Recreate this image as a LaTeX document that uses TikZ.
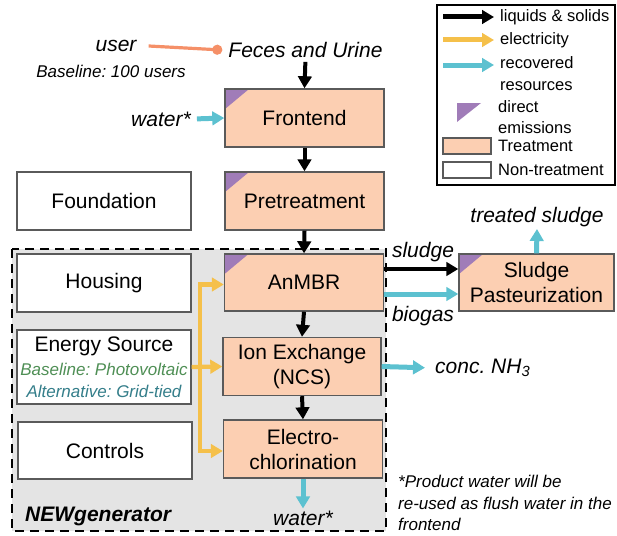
\documentclass[tikz,border=0pt]{standalone}
\usepackage{fontspec}
\setmainfont{Liberation Sans}
\usetikzlibrary{arrows.meta,positioning}
\frenchspacing

\definecolor{treat}{HTML}{FCCFB2}
\definecolor{emis}{HTML}{A07CB8}
\definecolor{recov}{HTML}{5CC1D0}
\definecolor{elec}{HTML}{F5C04A}
\definecolor{usr}{HTML}{F59068}
\definecolor{genbg}{HTML}{E4E4E4}
\definecolor{basegreen}{HTML}{4F8F55}
\definecolor{altteal}{HTML}{347E8A}
\definecolor{edge}{HTML}{5A5A5A}

\newcommand{\bigfont}{\fontsize{21}{25}\selectfont}
\newcommand{\notefont}{\fontsize{17}{21.5}\selectfont}

\tikzset{
  unit/.style={draw=edge, line width=1.4pt, minimum width=159pt, minimum height=58pt,
    inner sep=0pt, align=center, font=\bigfont},
  treatbox/.style={unit, fill=treat},
  plainbox/.style={unit, fill=white, minimum width=174pt},
  emitting/.style={path picture={\fill[emis] (path picture bounding box.north west)
    -- ++(24pt,0pt) -- ++(-24pt,-20pt) -- cycle;}},
  lab/.style={font=\bigfont\itshape, inner sep=2pt},
  note/.style={font=\notefont\itshape, inner sep=0pt},
  flow/.style={-{Triangle[width=13.5pt,length=12pt]}, line width=4pt},
  recovered/.style={flow, recov, line width=5pt},
  power/.style={-{Triangle[width=13.5pt,length=12pt]}, elec, line width=4.3pt},
  keytext/.style={font=\fontsize{16.5}{21.5}\selectfont, anchor=west, inner sep=0pt, align=left},
}

\begin{document}
\begin{tikzpicture}[x=1pt,y=-1pt]
  \useasboundingbox (0,0) rectangle (617,535);

  % NEWgenerator の範囲
  \fill[genbg] (12,249) rectangle (386,531);
  \draw[line width=2.6pt, dash pattern=on 9pt off 6pt] (12,249) rectangle (386,531);
  \node[font=\bigfont\bfseries\itshape, anchor=west, inner sep=0pt] (gen) at (25,516) {NEWgenerator};

  % 入力
  \node[lab] (user) at (116,46) {user};
  \node[note] (usercount) at (111,71) {Baseline: 100 users};
  \node[lab, inner sep=0pt] (feces) at (305.5,50) {Feces and Urine};
  \node[lab] (flushin) at (161,119) {water*};

  % 処理ユニット
  \node[treatbox, emitting] (frontend) at (304.5,118) {Frontend};
  \node[treatbox, emitting] (pretreat) at (304.5,201) {Pretreatment};
  \node[treatbox, emitting, minimum height=57pt] (anmbr) at (304,282.5) {AnMBR};
  \node[treatbox, minimum width=158pt] (ionex) at (302,366.5) {Ion Exchange\\(NCS)};
  \node[treatbox] (electro) at (303,449) {Electro-\\chlorination};
  \node[treatbox, emitting, minimum width=155pt, minimum height=57pt] (sludge) at (536.5,282.5)
    {Sludge\\Pasteurization};

  % 非処理ユニット
  \node[plainbox] (foundation) at (104,201) {Foundation};
  \node[plainbox] (housing) at (104,283) {Housing};
  \node[plainbox, minimum height=74pt] (energy) at (104,367)
    {Energy Source\\[-1pt]
     {\notefont\itshape\color{basegreen}Baseline: Photovoltaic}\\[-3pt]
     {\notefont\itshape\color{altteal}Alternative: Grid-tied}};
  \node[plainbox, minimum height=57pt] (controls) at (105,450.5) {Controls};

  % 出力
  \node[lab] (flushout) at (303,518) {water*};
  \node[lab] (treated) at (537,217) {treated sludge};
  \node[lab, anchor=west] (ammonia) at (433,368) {conc. NH\textsubscript{3}};
  \node[lab] (sludgelab) at (423,252) {sludge};
  \node[lab] (biogaslab) at (423,316) {biogas};
  \node[note, align=left, anchor=west] (footnote) at (398,503)
    {*Product water will be\\re-used as flush water in the\\frontend};

  % 液体・固体
  \draw[flow, shorten <=4pt] (feces.south) -- (frontend.north);
  \draw[flow] (frontend.south) -- (pretreat.north);
  \draw[flow] (pretreat.south) -- (anmbr.north);
  \draw[flow] (anmbr.south) -- (ionex.north);
  \draw[flow] (ionex.south) -- (electro.north);
  \draw[flow] ([yshift=13.5pt]anmbr.east) -- ([yshift=13.5pt]sludge.west);

  % 回収資源
  \draw[recovered, shorten <=4pt] (flushin.east) -- (frontend.west);
  \draw[recovered] ([yshift=-11.5pt]anmbr.east) -- ([yshift=-11.5pt]sludge.west);
  \draw[recovered] (sludge.north) -- (treated.south);
  \draw[recovered, shorten >=8pt] (ionex.east) -- (ammonia.west);
  \draw[recovered] (electro.south) -- (flushout.north);

  % 電力
  \coordinate (bus) at (200,367);
  \draw[power] (energy.east) -- (ionex.west);
  \draw[power] (bus) |- ([yshift=-2pt]anmbr.west);
  \draw[power] (bus) |- ([yshift=-2pt]electro.west);

  % 利用者
  \draw[usr, line width=3.2pt, -{Circle[length=10pt,width=10pt]}]
    ([xshift=10pt]user.east) -- ([xshift=-6pt]feces.west);

  % 凡例
  \draw[line width=1.3pt] (437,5) rectangle (615,185);
  \node[keytext] (keysolid) at (500,17) {liquids \& solids};
  \node[keytext] (keyelec) at (500,40) {electricity};
  \node[keytext, font=\fontsize{16.5}{22}\selectfont] (keyrecov) at (500,74) {recovered\\resources};
  \node[keytext, font=\fontsize{16.5}{21}\selectfont] (keyemis) at (498,117) {direct\\emissions};
  \node[keytext] (keytreat) at (498,146) {Treatment};
  \node[keytext] (keyplain) at (498,170) {Non-treatment};
  \draw[flow, line width=5pt] ([xshift=-57pt]keysolid.west) -- ([xshift=-6pt]keysolid.west);
  \draw[power, line width=5pt] ([xshift=-57pt]keyelec.west) -- ([xshift=-6pt]keyelec.west);
  \draw[recovered] ([xshift=-57pt,yshift=9pt]keyrecov.west) -- ([xshift=-6pt,yshift=9pt]keyrecov.west);
  \fill[emis] (457,103) -- (481,103) -- (457,122) -- cycle;
  \draw[draw=edge, line width=1.3pt, fill=treat] (443,138) rectangle (491,154);
  \draw[draw=edge, line width=1.3pt, fill=white] (443,162) rectangle (491,178);
\end{tikzpicture}
\end{document}
